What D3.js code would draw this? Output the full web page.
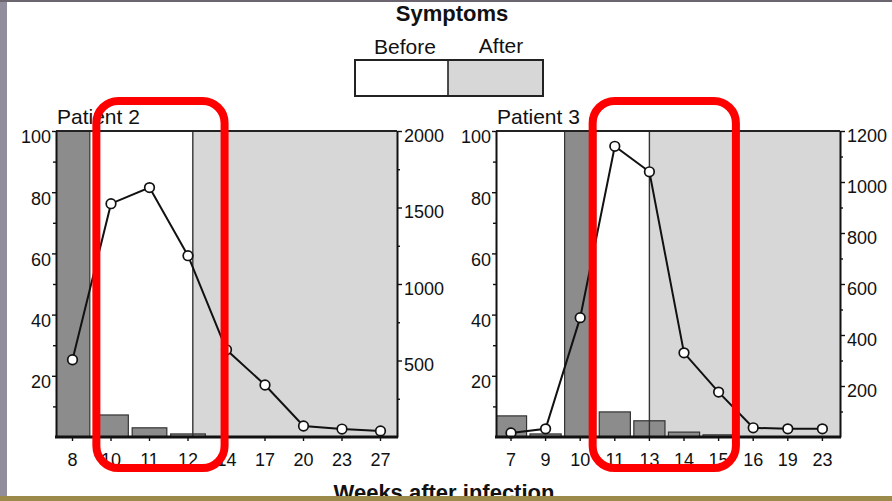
<!DOCTYPE html>
<html><head><meta charset="utf-8">
<script src="https://cdn.jsdelivr.net/npm/d3@7"></script>
<style>
body{margin:0;background:#fff;}
svg{display:block;font-family:"Liberation Sans",Arial,Helvetica,sans-serif;}
</style></head><body>
<svg id="c" width="892" height="501"></svg>
<script>
// ---- data ----
const chartTitle = "Symptoms";
const legendLabels = ["Before", "After"];
const xAxisTitle = "Weeks after infection";
const panelTitles = ["Patient 2", "Patient 3"];

const weeksP2 = ["8","10","11","12","14","17","20","23","27"];
const pctP2   = [100, 7.2, 3, 1, 0, 0, 0, 0, 0];          // bars, left axis (%)
const loadP2  = [505, 1525, 1630, 1185, 570, 340, 72, 52, 40]; // line, right axis
const onsetP2 = 12.25;                                    // symptom onset (week)
const rightTicksP2 = [500, 1000, 1500, 2000];
const highlightP2 = [0.62, 3.95];                         // red box, in category-index units

const weeksP3 = ["7","9","10","11","13","14","15","16","19","23"];
const pctP3   = [6.9, 1, 100, 8.2, 5.3, 1.6, 0.7, 0, 0, 0];
const loadP3  = [16, 32, 468, 1140, 1040, 330, 176, 36, 32, 32];
const onsetP3 = 13;
const rightTicksP3 = [200, 400, 600, 800, 1000, 1200];
const highlightP3 = [2.36, 6.5];

const leftTicks = [20, 40, 60, 80, 100];
const leftMinor = [10, 30, 50, 70, 90];

// ---- drawing ----
const svg = d3.select("#c");
svg.append("rect").attr("width", 892).attr("height", 501).attr("fill", "#fff");

const LIGHT = "#d7d7d7", DARK = "#8c8c8c", INK = "#111";
const Y0 = 437, Y1 = 131;

const panels = [
  {title: panelTitles[0], weeks: weeksP2, pct: pctP2, load: loadP2, onset: onsetP2,
   rmax: 2000, rticks: rightTicksP2, rminorStep: 250, px0: 56, px1: 397,
   bx0: 53.25, bx1: 399.75, hl: highlightP2, titleX: 57, id: "p2"},
  {title: panelTitles[1], weeks: weeksP3, pct: pctP3, load: loadP3, onset: onsetP3,
   rmax: 1200, rticks: rightTicksP3, rminorStep: 100, px0: 496, px1: 840,
   bx0: 493.7, bx1: 839.7, hl: highlightP3, titleX: 497, id: "p3"}
];

const redLayer = [];

panels.forEach(p => {
  const g = svg.append("g");
  const x = d3.scaleBand().domain(p.weeks).range([p.bx0, p.bx1]).paddingInner(0.1).paddingOuter(0.05);
  const yL = d3.scaleLinear().domain([0, 100]).range([Y0, Y1]);
  const yR = d3.scaleLinear().domain([0, p.rmax]).range([Y0, Y1]);
  const cx = w => x(w) + x.bandwidth() / 2;
  const idxX = i => cx(p.weeks[0]) + i * x.step();

  // onset position (interpolate between categories)
  const nums = p.weeks.map(Number);
  let k = 0;
  while (k < nums.length - 2 && nums[k + 1] <= p.onset) k++;
  const onsetIdx = k + (p.onset - nums[k]) / (nums[k + 1] - nums[k]);
  const ox = idxX(onsetIdx);

  // clip
  svg.append("clipPath").attr("id", "clip" + p.id)
    .append("rect").attr("x", p.px0).attr("y", Y1).attr("width", p.px1 - p.px0).attr("height", Y0 - Y1);
  const plot = g.append("g").attr("clip-path", `url(#clip${p.id})`);

  // after-symptom shading
  plot.append("rect").attr("x", ox).attr("y", Y1).attr("width", p.px1 - ox).attr("height", Y0 - Y1)
    .attr("fill", LIGHT);

  // bars
  plot.selectAll("rect.bar").data(p.weeks.map((w, i) => ({w, v: p.pct[i]})).filter(d => d.v > 0))
    .join("rect").attr("class", "bar")
    .attr("x", d => x(d.w)).attr("width", x.bandwidth())
    .attr("y", d => yL(d.v)).attr("height", d => Y0 - yL(d.v))
    .attr("fill", DARK).attr("stroke", "#333").attr("stroke-width", 1.2);

  // onset line
  plot.append("line").attr("x1", ox).attr("x2", ox).attr("y1", Y1).attr("y2", Y0)
    .attr("stroke", "#333").attr("stroke-width", 1.4);

  // line + points
  const pts = p.weeks.map((w, i) => [cx(w), yR(p.load[i])]);
  g.append("path").attr("d", d3.line()(pts)).attr("fill", "none").attr("stroke", INK).attr("stroke-width", 2);
  g.selectAll("circle").data(pts).join("circle")
    .attr("cx", d => d[0]).attr("cy", d => d[1]).attr("r", 4.8)
    .attr("fill", "#fff").attr("stroke", INK).attr("stroke-width", 1.7);

  // top frame line
  g.append("line").attr("x1", p.px0).attr("x2", p.px1).attr("y1", Y1).attr("y2", Y1)
    .attr("stroke", "#222").attr("stroke-width", 2);

  // left axis
  const la = g.append("g").attr("transform", `translate(${p.px0},0)`)
    .call(d3.axisLeft(yL).tickValues(leftTicks).tickSize(4).tickPadding(1).tickSizeOuter(0));
  g.append("g").attr("transform", `translate(${p.px0},0)`)
    .call(d3.axisLeft(yL).tickValues(leftMinor).tickSize(3).tickFormat("").tickSizeOuter(0))
    .select(".domain").remove();
  la.select(".domain").attr("stroke", INK).attr("stroke-width", 2);
  la.selectAll("text").attr("dy", "0.66em").style("font-size", "18px").attr("fill", INK);

  // right axis
  const ra = g.append("g").attr("transform", `translate(${p.px1},0)`)
    .call(d3.axisRight(yR).tickValues(p.rticks).tickFormat(d3.format("d")).tickSize(5).tickPadding(2).tickSizeOuter(0));
  g.append("g").attr("transform", `translate(${p.px1},0)`)
    .call(d3.axisRight(yR).tickValues(d3.range(p.rminorStep, p.rmax, p.rminorStep * 2)).tickSize(3).tickFormat("").tickSizeOuter(0))
    .select(".domain").remove();
  ra.select(".domain").attr("stroke", INK).attr("stroke-width", 2);
  ra.selectAll("text").attr("dy", "0.58em").style("font-size", "18px").attr("fill", INK);

  // bottom axis
  const ba = g.append("g").attr("transform", `translate(0,${Y0})`)
    .call(d3.axisBottom(x).tickSize(4).tickPadding(12).tickSizeOuter(0));
  ba.select(".domain").remove();
  ba.selectAll("text").style("font-size", "18px").attr("fill", INK);
  g.append("line").attr("x1", p.px0 - 1).attr("x2", p.px1 + 1).attr("y1", Y0).attr("y2", Y0)
    .attr("stroke", INK).attr("stroke-width", 2.8);
  g.selectAll(".tick line").attr("stroke", INK).attr("stroke-width", 1.4);

  // panel title
  g.append("text").attr("x", p.titleX).attr("y", 124).text(p.title)
    .style("font-size", "21px").attr("fill", INK);

  redLayer.push({x0: idxX(p.hl[0]), x1: idxX(p.hl[1])});
});

// legend
const lg = svg.append("g");
lg.append("text").attr("x", 452).attr("y", 21).attr("text-anchor", "middle")
  .style("font-size", "22px").style("font-weight", "bold").attr("fill", INK).text(chartTitle);
const lx0 = 355, lx1 = 543, lmid = 448, ly0 = 60, ly1 = 96;
lg.append("rect").attr("x", lmid).attr("y", ly0).attr("width", lx1 - lmid).attr("height", ly1 - ly0).attr("fill", LIGHT);
lg.append("rect").attr("x", lx0).attr("y", ly0).attr("width", lx1 - lx0).attr("height", ly1 - ly0)
  .attr("fill", "none").attr("stroke", "#222").attr("stroke-width", 2);
lg.append("line").attr("x1", lmid).attr("x2", lmid).attr("y1", ly0).attr("y2", ly1).attr("stroke", "#222").attr("stroke-width", 1.6);
lg.append("text").attr("x", 405).attr("y", 54).attr("text-anchor", "middle").style("font-size", "21px").attr("fill", INK).text(legendLabels[0]);
lg.append("text").attr("x", 501).attr("y", 53).attr("text-anchor", "middle").style("font-size", "21px").attr("fill", INK).text(legendLabels[1]);

// x-axis title (partly hidden by the slide's bottom bar, as in the reference)
svg.append("text").attr("x", 444).attr("y", 500).attr("text-anchor", "middle")
  .style("font-size", "22px").style("font-weight", "bold").attr("fill", INK).text(xAxisTitle);

// red highlight boxes
redLayer.forEach(r => {
  svg.append("rect").attr("x", r.x0).attr("y", 101).attr("width", r.x1 - r.x0).attr("height", 468 - 101)
    .attr("rx", 22).attr("ry", 22).attr("fill", "none").attr("stroke", "#ff0000").attr("stroke-width", 8);
});

// slide frame
svg.append("rect").attr("x", 0).attr("y", 0).attr("width", 7).attr("height", 496).attr("fill", "#928d9c");
svg.append("rect").attr("x", 0).attr("y", 0).attr("width", 892).attr("height", 2).attr("fill", "#6b6570");
svg.append("rect").attr("x", 0).attr("y", 496).attr("width", 892).attr("height", 5).attr("fill", "#9c8a4b");
</script>
</body></html>
